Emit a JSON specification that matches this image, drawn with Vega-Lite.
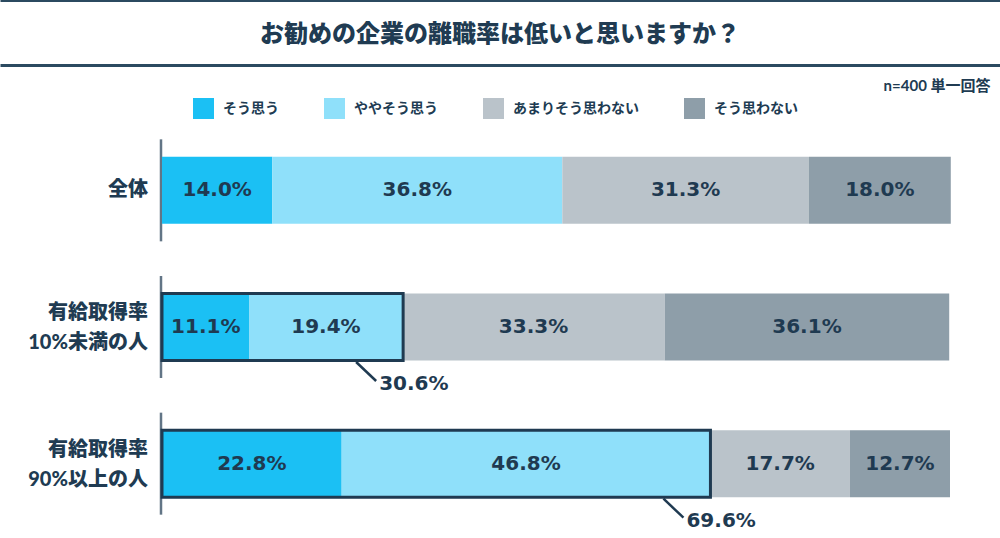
{
  "$schema": "https://vega.github.io/schema/vega-lite/v6.json",
  "padding": {"top": 0, "left": 0, "right": 0, "bottom": 0},
  "background": "white",
  "columns": 1,
  "spacing": 29,
  "config": {"view": {"stroke": null}, "font": "Lato, Noto Sans CJK JP"},
  "datasets": {
    "bars": [
      {"group": "全体", "answer": "そう思う", "order": 1, "value": 0.140},
      {"group": "全体", "answer": "ややそう思う", "order": 2, "value": 0.368},
      {"group": "全体", "answer": "あまりそう思わない", "order": 3, "value": 0.313},
      {"group": "全体", "answer": "そう思わない", "order": 4, "value": 0.180},
      {"group": "有給取得率 10%未満の人", "answer": "そう思う", "order": 1, "value": 0.111},
      {"group": "有給取得率 10%未満の人", "answer": "ややそう思う", "order": 2, "value": 0.194},
      {"group": "有給取得率 10%未満の人", "answer": "あまりそう思わない", "order": 3, "value": 0.333},
      {"group": "有給取得率 10%未満の人", "answer": "そう思わない", "order": 4, "value": 0.361},
      {"group": "有給取得率 90%以上の人", "answer": "そう思う", "order": 1, "value": 0.228},
      {"group": "有給取得率 90%以上の人", "answer": "ややそう思う", "order": 2, "value": 0.468},
      {"group": "有給取得率 90%以上の人", "answer": "あまりそう思わない", "order": 3, "value": 0.177},
      {"group": "有給取得率 90%以上の人", "answer": "そう思わない", "order": 4, "value": 0.127}
    ],
    "callouts": [
      {"group": "有給取得率 10%未満の人", "total": 0.306},
      {"group": "有給取得率 90%以上の人", "total": 0.696}
    ],
    "groups": [
      {"group": "全体"},
      {"group": "有給取得率 10%未満の人"},
      {"group": "有給取得率 90%以上の人"}
    ]
  },
  "concat": [
    {
      "width": 1000,
      "height": 65,
      "data": {"values": [{"title": "お勧めの企業の離職率は低いと思いますか？"}]},
      "mark": {"type": "text", "font": "Noto Sans CJK JP", "fontSize": 24, "fontWeight": 900, "color": "#203b52", "baseline": "middle", "dy": 2},
      "encoding": {
        "text": {"field": "title"},
        "x": {
          "datum": 0, "type": "quantitative",
          "scale": {"domain": [-1, 1]},
          "axis": {
            "orient": "bottom",
            "title": "n=400 単一回答", "labels": false, "ticks": false, "grid": false, "domain": false,
            "titleX": 990, "titleY": 20, "titleAlign": "right", "titleBaseline": "middle",
            "titleFontSize": 15, "titleFontWeight": "bold", "titleColor": "#203b52",
            "titleFont": "Lato, Noto Sans CJK JP"
          }
        },
        "y": {
          "datum": 0, "type": "quantitative",
          "scale": {"domain": [-1, 1]},
          "axis": {
            "title": null, "labels": false, "ticks": false, "domain": false,
            "grid": true, "values": [-1, 1], "gridWidth": 3, "gridColor": "#2b4a60", "gridOpacity": 1,
            "minExtent": 0, "maxExtent": 0
          }
        }
      }
    },
    {
      "width": 1000,
      "height": 410,
      "encoding": {
        "y": {
          "field": "group", "type": "nominal",
          "sort": ["全体", "有給取得率 10%未満の人", "有給取得率 90%以上の人"],
          "scale": {"paddingInner": 0.51, "paddingOuter": 0.255},
          "axis": null
        }
      },
      "layer": [
        {
          "data": {"name": "groups"},
          "mark": {"type": "tick", "orient": "vertical", "size": 102, "thickness": 2.5, "color": "#203b52", "xOffset": -1},
          "encoding": {
            "x": {"datum": 0, "type": "quantitative", "scale": {"domain": [-0.20558, 1.06345], "nice": false, "zero": false}, "axis": null}
          }
        },
        {
          "data": {"name": "groups"},
          "transform": [{"filter": "indexof(datum.group, ' ') < 0"}],
          "mark": {"type": "text", "fontSize": 20, "fontWeight": 900, "color": "#203b52", "align": "right", "baseline": "middle", "xOffset": -14},
          "encoding": {
            "x": {"datum": 0, "type": "quantitative"},
            "text": {"field": "group"}
          }
        },
        {
          "data": {"name": "groups"},
          "transform": [{"filter": "indexof(datum.group, ' ') >= 0"}],
          "mark": {"type": "text", "fontSize": 20, "fontWeight": 900, "color": "#203b52", "align": "right", "baseline": "middle", "xOffset": -14, "yOffset": -14, "lineBreak": " ", "lineHeight": 30},
          "encoding": {
            "x": {"datum": 0, "type": "quantitative"},
            "text": {"field": "group"}
          }
        },
        {
          "data": {"name": "bars"},
          "mark": {"type": "bar", "opacity": 1},
          "encoding": {
            "x": {"field": "value", "type": "quantitative", "stack": "zero"},
            "order": {"field": "order"},
            "color": {
              "field": "answer", "type": "nominal",
              "scale": {
                "domain": ["そう思う", "ややそう思う", "あまりそう思わない", "そう思わない"],
                "range": ["#1bc0f4", "#8fe0fa", "#bac3ca", "#8e9ea9"]
              },
              "legend": {
                "orient": "none", "legendX": 193, "legendY": 98, "direction": "horizontal", "columns": 4,
                "title": null, "symbolType": "square", "symbolSize": 441, "symbolStrokeWidth": 0,
                "symbolOpacity": 1, "labelFontSize": 14, "labelFontWeight": "bold", "labelColor": "#203b52",
                "labelOffset": 9, "columnPadding": 45, "labelFont": "Noto Sans CJK JP"
              }
            }
          }
        },
        {
          "data": {"name": "bars"},
          "mark": {"type": "text", "font": "DejaVu Sans", "fontSize": 20, "fontWeight": "bold", "color": "#1f3a51", "baseline": "middle"},
          "encoding": {
            "x": {"field": "value", "type": "quantitative", "stack": "zero", "bandPosition": 0.5},
            "order": {"field": "order"},
            "text": {"field": "value", "format": ".1%"}
          }
        },
        {
          "data": {"name": "callouts"},
          "mark": {"type": "bar", "fillOpacity": 0, "stroke": "#1f3a51", "strokeWidth": 3},
          "encoding": {
            "x": {"field": "total", "type": "quantitative"}
          }
        },
        {
          "data": {"name": "callouts"},
          "mark": {"type": "rule", "color": "#1f3a51", "strokeWidth": 2.5, "xOffset": -47, "x2Offset": -27, "yOffset": 35, "y2Offset": 54},
          "encoding": {
            "x": {"field": "total", "type": "quantitative"},
            "x2": {"field": "total"},
            "y2": {"field": "group"}
          }
        },
        {
          "data": {"name": "callouts"},
          "mark": {"type": "text", "font": "DejaVu Sans", "fontSize": 20, "fontWeight": "bold", "color": "#1f3a51", "align": "left", "baseline": "middle", "xOffset": -24, "yOffset": 57},
          "encoding": {
            "x": {"field": "total", "type": "quantitative"},
            "text": {"field": "total", "format": ".1%"}
          }
        }
      ]
    }
  ]
}
